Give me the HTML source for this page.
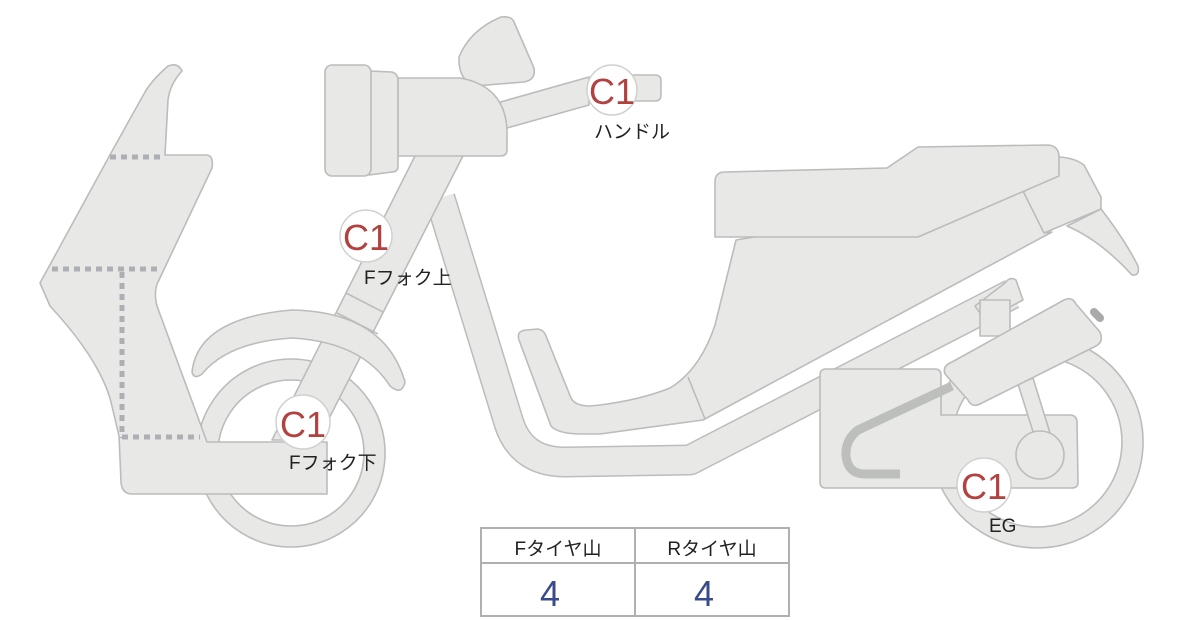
<!DOCTYPE html>
<html><head><meta charset="utf-8"><style>
html,body{margin:0;padding:0;background:#fff;}
svg{display:block;}
text{font-family:"Liberation Sans","Noto Sans CJK JP",sans-serif;}
</style></head><body>
<svg width="1200" height="620" viewBox="0 0 1200 620" xmlns="http://www.w3.org/2000/svg">
<g fill="#e8e8e6" stroke="#bcbcbc" stroke-width="1.6" stroke-linejoin="round">
<!-- rear wheel -->
<path fill-rule="evenodd" d="M1037,336a106,106 0 1,0 0.1,0Z M1037,357a85,85 0 1,1 -0.1,0Z"/>
<!-- front wheel -->
<path fill-rule="evenodd" d="M291,359a94,94 0 1,0 0.1,0Z M291,380a73,73 0 1,1 -0.1,0Z"/>
<!-- frame band -->
<path d="M440,198 L508,420 Q520,462 565,462 L690,460 L1012,294" fill="none" stroke="#bcbcbc" stroke-width="31" stroke-linecap="butt"/>
<path d="M440,198 L508,420 Q520,462 565,462 L690,460 L1012,294" fill="none" stroke="#e8e8e6" stroke-width="28"/>
<!-- fork -->
<path d="M418,150 L466,150 L318,440 L272,440 Z"/>
<path d="M346,293 L383,312 M337,313 L378,334" fill="none"/>
<!-- fender -->
<path d="M192,372 Q198,318 292,310 Q385,312 405,382 Q402,396 390,386 Q362,342 292,338 Q228,342 202,374 Q194,380 192,372 Z"/>
<!-- leg shield -->
<path d="M182,71 Q178,62 168,66 Q152,80 145,92 L111,153 L40,283 L50,306 Q100,360 111,402 L119,436 L121,482 Q122,494 132,494 L327,494 L327,442 L207,442 L157,306 Q153,290 159,280 L212,168 Q214,155 206,155 L165,155 L168,100 Q170,84 182,71 Z"/>
<g stroke="#adafb4" stroke-width="5" stroke-dasharray="6,5" fill="none">
<path d="M110,157 H165"/><path d="M52,269 H162"/><path d="M122,272 V438"/><path d="M122,437 H200"/>
</g>
<!-- windscreen -->
<path d="M459,57 Q470,30 501,17 Q512,16 514,22 L534,68 Q536,80 524,82 L475,86 Q458,80 459,57 Z"/>
<!-- handlebar -->
<path d="M497,103 L589,77 L589,105 L507,128 Z"/>
<path d="M620,75 L655,75 Q661,75 661,81 L661,95 Q661,101 655,101 L620,101 Z"/>
<!-- headlight -->
<path d="M398,78 L460,78 Q505,86 507,130 L507,150 Q507,156 500,156 L398,156 Z"/>
<path d="M369,71 L392,72 Q398,74 398,80 L398,166 Q398,172 392,172 L369,175 Z"/>
<rect x="325" y="65" width="46" height="111" rx="7"/>
<!-- body under seat -->
<path d="M519,340 Q516,331 526,330 L538,329 Q544,330 546,336 L571,398 Q575,406 590,406 L600,405 Q640,400 670,388 Q700,370 715,325 L736,240 L1025,191 L1059,157 Q1075,158 1084,165 L1101,197 L1101,209 L1044,233 L1052,232 L703,420 L600,434 L582,434 Q558,434 551,426 Z"/>
<path d="M688,377 L705,419 M1023,191 L1044,233" fill="none"/>
<!-- tail -->
<path d="M1067,226 L1101,209 Q1125,240 1138,266 Q1140,276 1132,275 Q1100,240 1067,226 Z"/>
<!-- seat -->
<path d="M725,172 L887,168 L918,147 L1048,145 Q1059,146 1059,157 L1059,176 L918,237 L715,237 L715,182 Q715,172 725,172 Z"/>
<!-- shock -->
<path d="M1005,283 Q1010,276 1016,280 L1023,300 L985,320 L975,306 Z"/>
<rect x="980" y="300" width="30" height="36"/>
<!-- engine case -->
<path d="M826,369 L935,369 Q941,369 941,375 L941,415 L1070,415 Q1076,415 1077,421 L1078,482 Q1078,488 1072,488 L826,488 Q820,488 820,482 L820,375 Q820,369 826,369 Z"/>
<path d="M952,386 L858,430 Q845,440 846,456 Q848,474 865,474 L900,474" fill="none" stroke="#bdbfbd" stroke-width="9" stroke-linecap="butt"/>
<!-- swing arm -->
<path d="M1018,384 L1033,378 L1050,433 L1035,438 Z"/>
<circle cx="1040" cy="455" r="24"/>
<!-- air box -->
<path d="M1094,312 L1100,318" stroke="#aaaaaa" stroke-width="8" stroke-linecap="round"/>
<path d="M952,362 L1064,300 Q1072,296 1076,304 L1100,332 Q1104,342 1096,346 L980,404 Q972,408 968,400 L945,374 Q942,366 952,362 Z"/>
</g>
<!-- badges -->
<g fill="#fff" stroke="#d0d0d0" stroke-width="1.5">
<circle cx="612" cy="90" r="25"/><circle cx="366" cy="236" r="26"/><circle cx="303" cy="422" r="27"/><circle cx="984" cy="485" r="27"/>
</g>
<g fill="#b2413f" font-size="36" text-anchor="middle">
<text x="612" y="104">C1</text><text x="366" y="250">C1</text><text x="303" y="437">C1</text><text x="984" y="499">C1</text>
</g>
<g fill="#222" font-size="19">
<text x="594" y="138">ハンドル</text>
<text x="364" y="284">Fフォク上</text>
<text x="289" y="469">Fフォク下</text>
<text x="989" y="532">EG</text>
</g>
<!-- table -->
<g fill="#fff" stroke="#b0b0b0" stroke-width="2">
<rect x="481" y="528" width="308" height="88"/>
<path d="M481,563 H789 M635,528 V616"/>
</g>
<g font-size="19" fill="#222" text-anchor="middle"><text x="558" y="555">Fタイヤ山</text><text x="712" y="555">Rタイヤ山</text></g>
<g font-size="36" fill="#3a4b8c" text-anchor="middle"><text x="550" y="606">4</text><text x="704" y="606">4</text></g>
</svg>
</body></html>
